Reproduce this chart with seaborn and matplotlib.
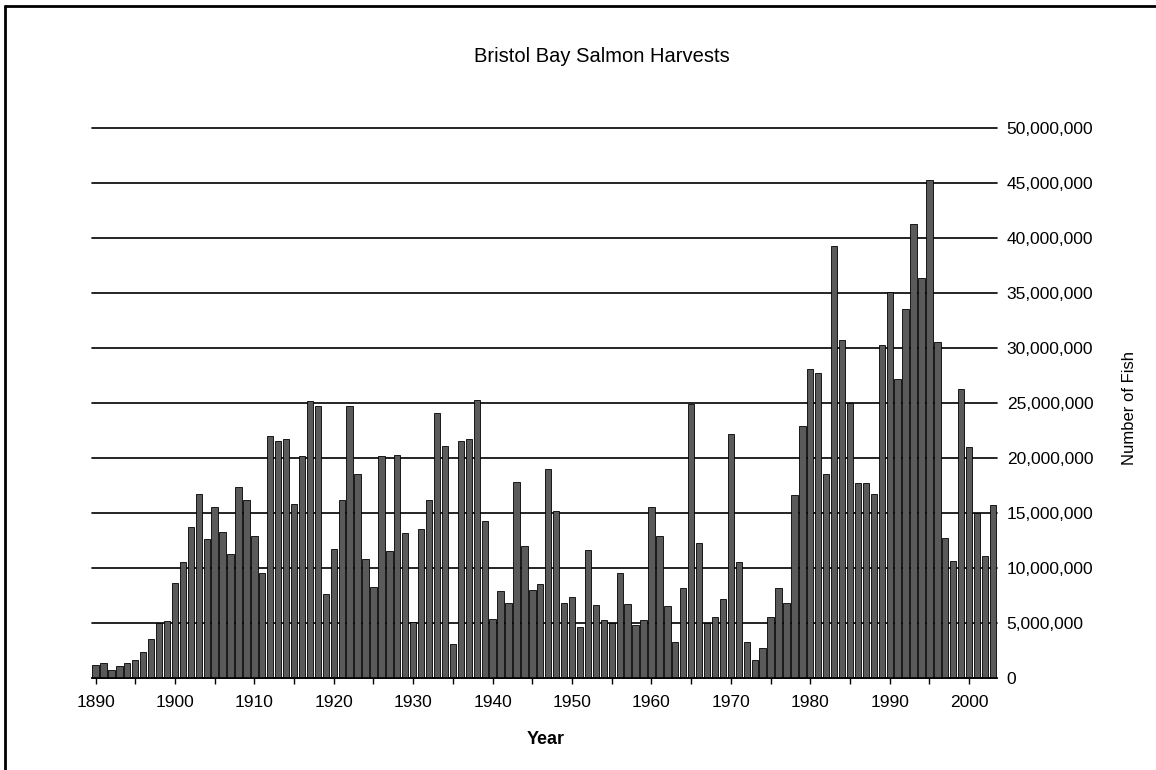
import matplotlib
matplotlib.use("Agg")
import matplotlib.pyplot as plt
import seaborn as sns
import pandas as pd
from matplotlib.lines import Line2D
from matplotlib.ticker import FuncFormatter

# 年份和捕捞量（百万尾）
years = list(range(1890, 2004))
harvest_millions = [
    1.2, 1.4, 0.7, 1.1, 1.4, 1.6, 2.4, 3.5, 5.0, 5.2,          # 1890s
    8.6, 10.5, 13.7, 16.7, 12.6, 15.5, 13.3, 11.3, 17.4, 16.2,  # 1900s
    12.9, 9.5, 22.0, 21.5, 21.7, 15.8, 20.2, 25.2, 24.7, 7.6,   # 1910s
    11.7, 16.2, 24.7, 18.5, 10.8, 8.3, 20.2, 11.5, 20.3, 13.2,  # 1920s
    5.1, 13.5, 16.2, 24.1, 21.1, 3.1, 21.5, 21.7, 25.3, 14.3,   # 1930s
    5.4, 7.9, 6.8, 17.8, 12.0, 8.0, 8.5, 19.0, 15.2, 6.8,       # 1940s
    7.4, 4.6, 11.6, 6.6, 5.3, 5.0, 9.5, 6.7, 4.8, 5.3,          # 1950s
    15.5, 12.9, 6.5, 3.3, 8.2, 24.9, 12.3, 5.0, 5.5, 7.2,       # 1960s
    22.2, 10.5, 3.3, 1.6, 2.7, 5.5, 8.2, 6.8, 16.6, 22.9,       # 1970s
    28.1, 27.7, 18.5, 39.3, 30.7, 25.0, 17.7, 17.7, 16.7, 30.3, # 1980s
    35.1, 27.2, 33.5, 41.3, 36.4, 45.3, 30.5, 12.7, 10.6, 26.3, # 1990s
    21.0, 15.0, 11.1, 15.7,                                     # 2000s
]
ytick_values = list(range(0, 50_000_001, 5_000_000))
xtick_years = list(range(1890, 2001, 5))

df = pd.DataFrame({"Year": years, "Fish": [v * 1e6 for v in harvest_millions]})

sns.set_style("white")
plt.rcParams["font.family"] = ["Liberation Sans", "DejaVu Sans"]
plt.rcParams["text.color"] = "black"
plt.rcParams["xtick.color"] = "black"
plt.rcParams["ytick.color"] = "black"

fig = plt.figure(figsize=(11.56, 7.70), dpi=100)
ax = fig.add_axes([0.0792, 0.1195, 0.7832, 0.7143])

sns.barplot(data=df, x="Year", y="Fish", native_scale=True, color="#5a5a5a",
            saturation=1, edgecolor="black", linewidth=0.6, width=0.8, ax=ax)

ax.set_xlim(1889.5, 2003.5)
ax.set_ylim(0, 50_000_000)
ax.set_axisbelow(True)

# 横向网格线，数值标在右侧
ax.set_yticks(ytick_values)
ax.yaxis.grid(True, color="black", linewidth=1.2)
for gl in ax.get_ygridlines():
    gl.set_clip_on(False)
ax.xaxis.grid(False)
ax.yaxis.tick_right()
ax.yaxis.set_major_formatter(FuncFormatter(lambda v, p: f"{v:,.0f}"))
ax.tick_params(axis="y", length=0, pad=7, labelsize=12.5, right=False, left=False)

ax.set_xticks(xtick_years)
ax.set_xticklabels([str(y) if y % 10 == 0 else "" for y in xtick_years])
ax.tick_params(axis="x", bottom=True, length=4.5, width=1, color="black",
               labelsize=12.5, pad=8)

for side in ["top", "left", "right"]:
    ax.spines[side].set_visible(False)
ax.spines["bottom"].set_color("black")
ax.spines["bottom"].set_linewidth(1.2)

ax.set_xlabel("")
ax.set_ylabel("")
fig.text(546 / 1156, 1 - 744 / 770, "Year", ha="center", va="baseline",
         fontsize=13, fontweight="bold")
fig.text(1130 / 1156, 1 - 408 / 770, "Number of Fish", ha="center", va="center",
         rotation=90, fontsize=12)
fig.text(602 / 1156, 1 - 62 / 770, "Bristol Bay Salmon Harvests", ha="center",
         va="baseline", fontsize=14.5)

# 外框（上边和左边）
fig.add_artist(Line2D([5 / 1156, 1], [1 - 6 / 770, 1 - 6 / 770],
                      transform=fig.transFigure, color="black", linewidth=2))
fig.add_artist(Line2D([5 / 1156, 5 / 1156], [0, 1 - 6 / 770],
                      transform=fig.transFigure, color="black", linewidth=2))

fig.savefig("out.png", dpi=100)
